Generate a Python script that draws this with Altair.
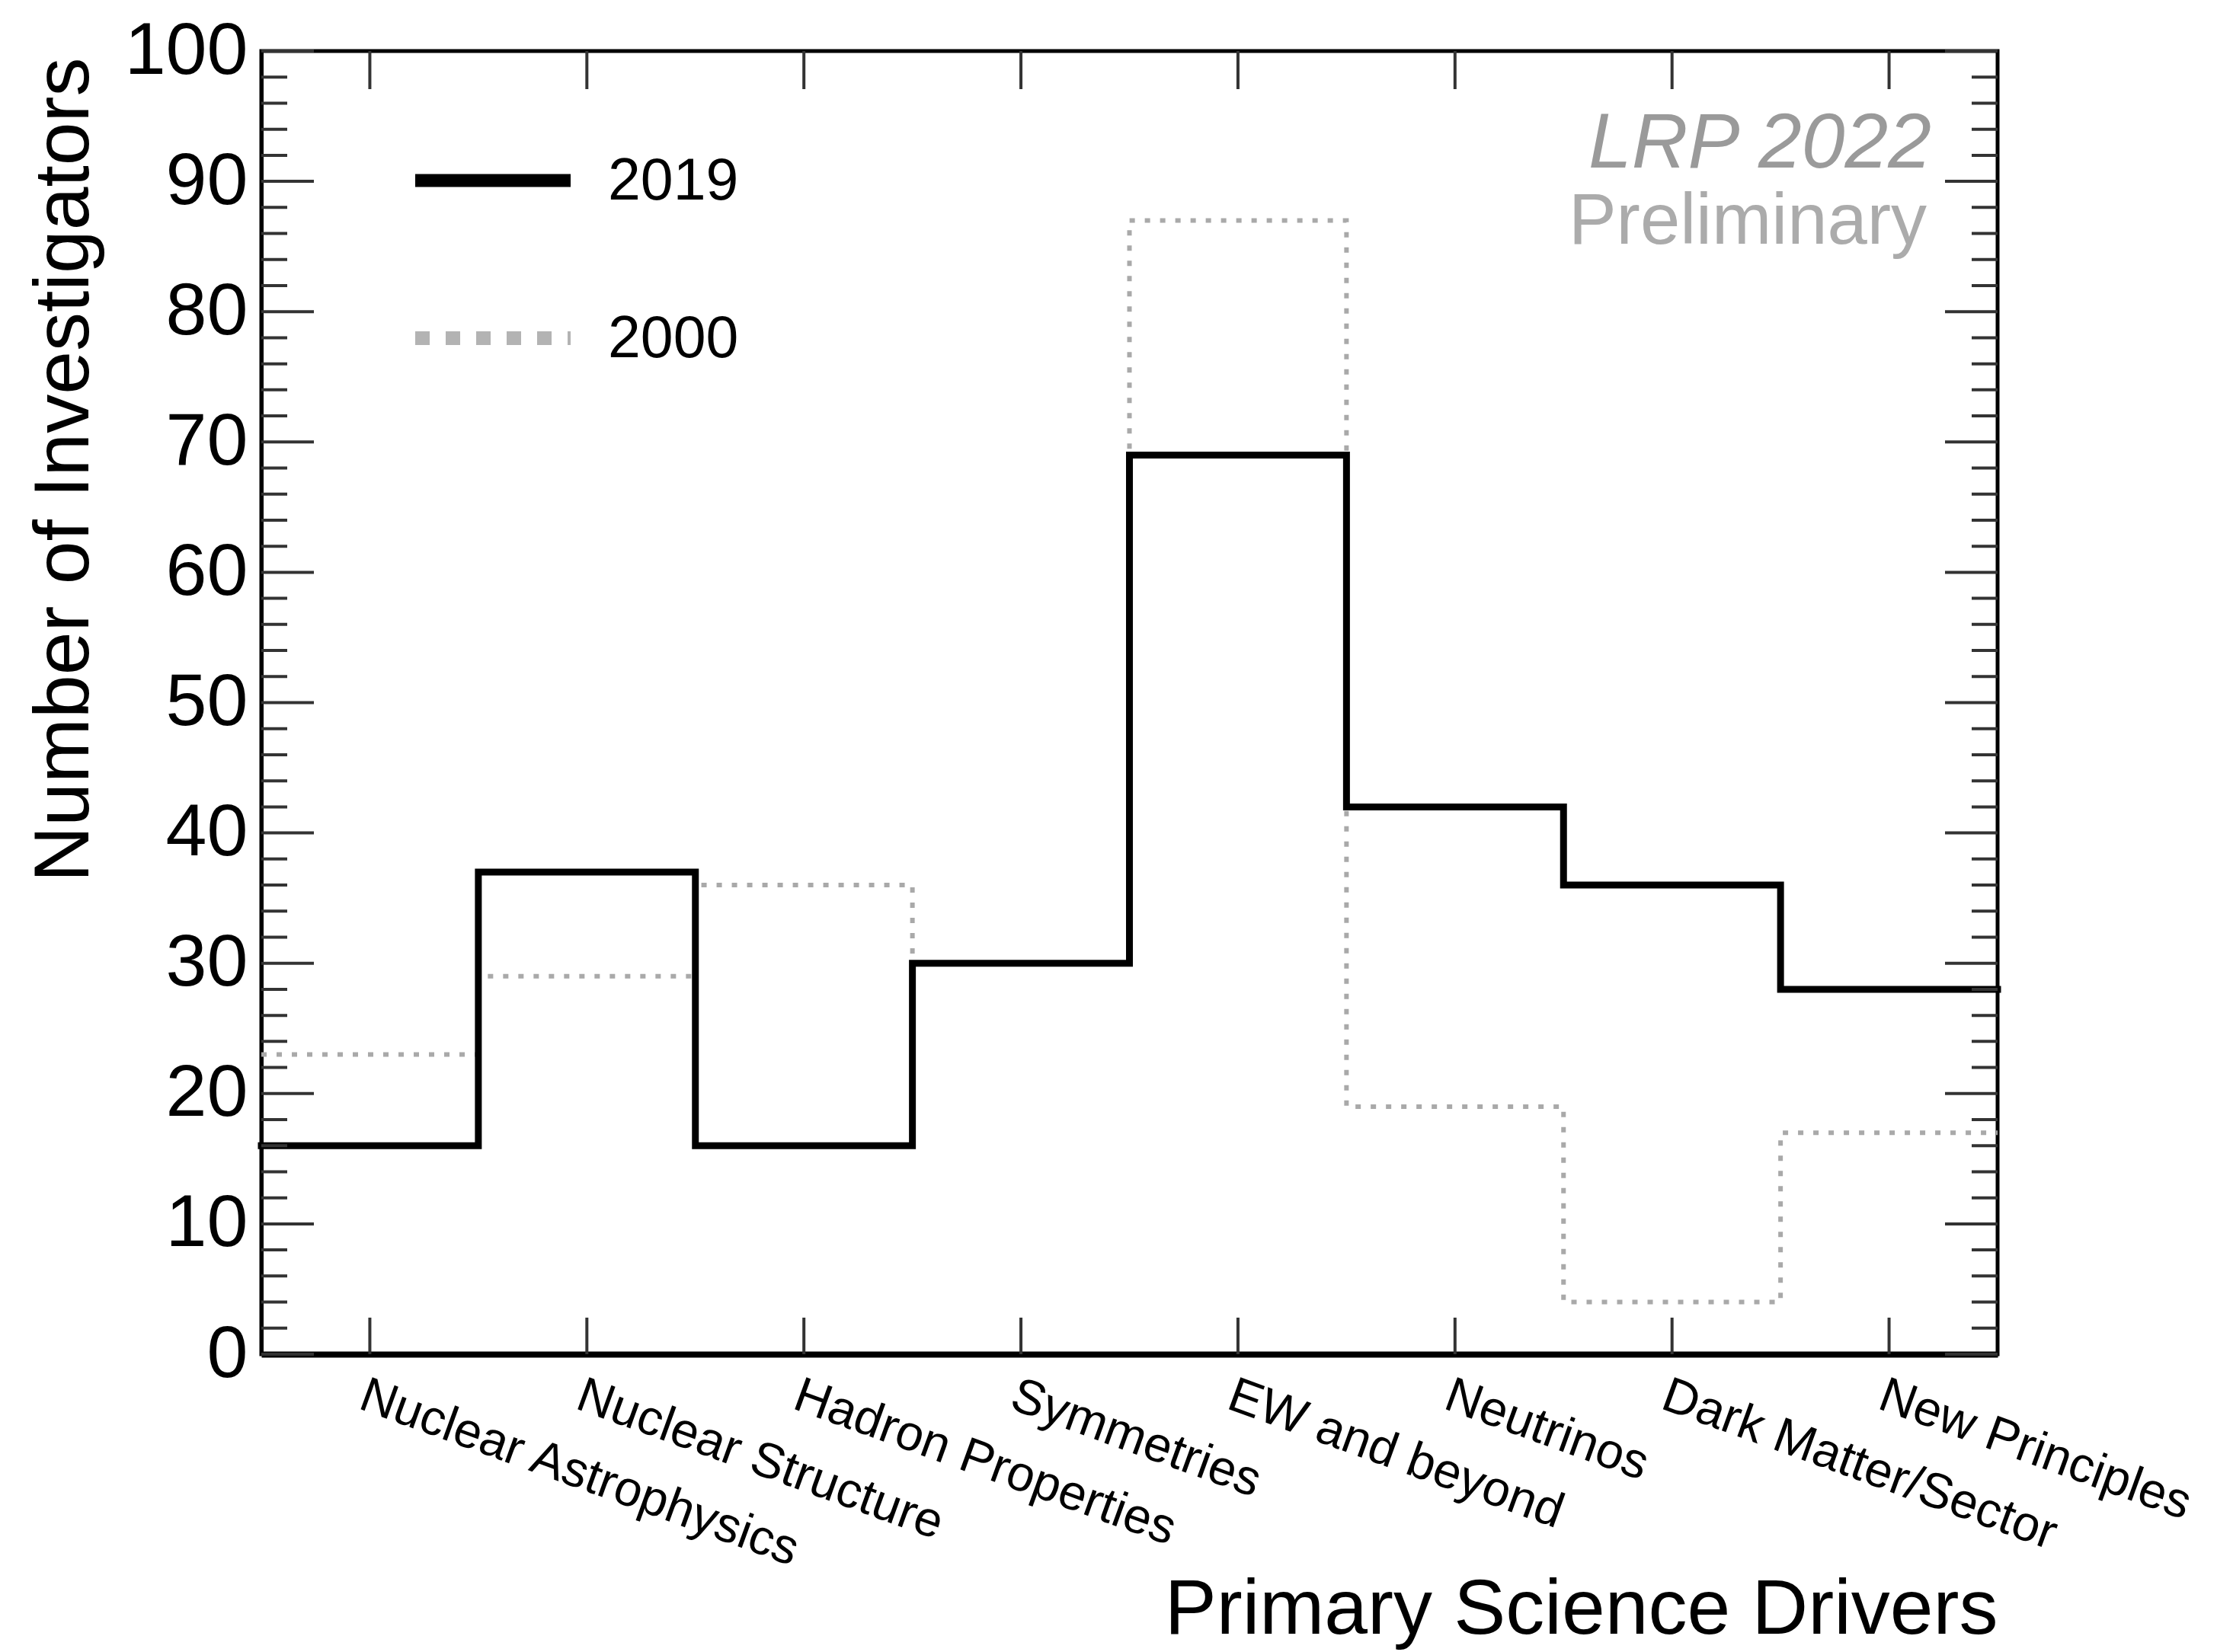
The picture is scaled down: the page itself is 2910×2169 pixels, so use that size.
import altair as alt
import pandas as pd

# Science-driver categories (bins along the x axis)
categories = [
    "Nuclear Astrophysics",
    "Nuclear Structure",
    "Hadron Properties",
    "Symmetries",
    "EW and beyond",
    "Neutrinos",
    "Dark Matter/Sector",
    "New Principles",
]

# Number of investigators per driver
counts_2019 = [16, 37, 16, 30, 69, 42, 36, 28]
counts_2000 = [23, 29, 36, 30, 87, 19, 4, 17]

# Axis tick values
y_major = list(range(0, 101, 10))
y_minor = [v for v in range(0, 101, 2) if v % 10 != 0]
bin_centers = [i + 0.5 for i in range(len(categories))]

FONT = "Liberation Sans"
W, H = 2279, 1711


def step_frame(values):
    edges = list(range(len(values) + 1))
    return pd.DataFrame({"edge": edges, "count": values + [values[-1]]})


xs = alt.Scale(domain=[0, len(categories)], nice=False, zero=False)
ys = alt.Scale(domain=[0, 100], nice=False, zero=False)

label_array = "[" + ",".join("'" + c.replace("'", "\\'") + "'" for c in categories) + "]"

x_axis = alt.Axis(
    values=bin_centers,
    labelExpr=label_array + "[floor(datum.value)]",
    labelAngle=20,
    labelAlign="left",
    labelBaseline="top",
    labelFontSize=65,
    labelFont=FONT,
    labelColor="black",
    labelPadding=22,
    labelLimit=2000,
    labelOverlap=False,
    labelBound=False,
    labelFlush=False,
    ticks=False,
    grid=False,
    domainColor="black",
    domainWidth=8,
    title="Primary Science Drivers",
    titleFont=FONT,
    titleFontSize=102,
    titleFontWeight="normal",
    titleColor="black",
    titleAnchor="end",
    titleAlign="right",
    titleBaseline="alphabetic",
    titleX=W,
    titleY=366,
)

y_axis = alt.Axis(
    values=y_major,
    labelFontSize=97,
    labelFont=FONT,
    labelColor="black",
    labelPadding=18,
    labelBaseline="middle",
    labelBound=False,
    labelFlush=False,
    ticks=False,
    grid=False,
    domainColor="black",
    domainWidth=5,
    title="Number of Investigators",
    titleFont=FONT,
    titleFontSize=102,
    titleFontWeight="normal",
    titleColor="black",
    titleAngle=270,
    titleAlign="right",
    titleBaseline="alphabetic",
    titleX=-228,
    titleY=8,
)

X = lambda f: alt.X(f, scale=xs, axis=x_axis)
Y = lambda f: alt.Y(f, scale=ys, axis=y_axis)

# 2000 distribution: grey dotted step line
line_2000 = alt.Chart(step_frame(counts_2000)).mark_line(
    interpolate="step-after", color="#a9a9a9", strokeWidth=6,
    strokeDash=[7, 13], strokeCap="butt",
).encode(x=X("edge:Q"), y=Y("count:Q"))

# 2019 distribution: solid black step line
line_2019 = alt.Chart(step_frame(counts_2019)).mark_line(
    interpolate="step-after", color="black", strokeWidth=9, strokeCap="square",
).encode(x=X("edge:Q"), y=Y("count:Q"))

tick_color = "#333333"

# Inward-pointing frame ticks
left_major = alt.Chart(pd.DataFrame({"v": y_major})).mark_rule(
    color=tick_color, strokeWidth=4).encode(
    y=Y("v:Q"), x=alt.value(0), x2=alt.value(69))
left_minor = alt.Chart(pd.DataFrame({"v": y_minor})).mark_rule(
    color=tick_color, strokeWidth=4).encode(
    y=Y("v:Q"), x=alt.value(0), x2=alt.value(34))
right_major = alt.Chart(pd.DataFrame({"v": y_major})).mark_rule(
    color=tick_color, strokeWidth=4).encode(
    y=Y("v:Q"), x=alt.value(W - 69), x2=alt.value(W))
right_minor = alt.Chart(pd.DataFrame({"v": y_minor})).mark_rule(
    color=tick_color, strokeWidth=4).encode(
    y=Y("v:Q"), x=alt.value(W - 34), x2=alt.value(W))
bottom_ticks = alt.Chart(pd.DataFrame({"c": bin_centers})).mark_rule(
    color=tick_color, strokeWidth=4).encode(
    x=X("c:Q"), y=alt.value(H), y2=alt.value(H - 48))
top_ticks = alt.Chart(pd.DataFrame({"c": bin_centers})).mark_rule(
    color=tick_color, strokeWidth=4).encode(
    x=X("c:Q"), y=alt.value(0), y2=alt.value(50))

# Legend drawn inside the frame
one = pd.DataFrame({"k": [0]})
leg_2019 = alt.Chart(one).mark_rule(color="black", strokeWidth=17, strokeCap="butt").encode(
    x=alt.value(202), x2=alt.value(406), y=alt.value(170))
leg_2000 = alt.Chart(one).mark_rule(
    color="#b3b3b3", strokeWidth=18, strokeDash=[19, 21], strokeCap="butt").encode(
    x=alt.value(202), x2=alt.value(406), y=alt.value(377))
leg_txt_2019 = alt.Chart(one).mark_text(
    text="2019", font=FONT, fontSize=77, align="left", baseline="middle", color="black"
).encode(x=alt.value(455), y=alt.value(172))
leg_txt_2000 = alt.Chart(one).mark_text(
    text="2000", font=FONT, fontSize=77, align="left", baseline="middle", color="black"
).encode(x=alt.value(455), y=alt.value(379))

# Watermark
lrp = alt.Chart(one).mark_text(
    text="LRP 2022", font=FONT, fontSize=102, fontStyle="italic",
    align="right", baseline="alphabetic", color="#9a9a9a",
).encode(x=alt.value(2192), y=alt.value(153))
prelim = alt.Chart(one).mark_text(
    text="Preliminary", font=FONT, fontSize=94,
    align="right", baseline="alphabetic", color="#ababab",
).encode(x=alt.value(2186), y=alt.value(253))

chart = alt.layer(
    line_2000, line_2019,
    left_major, left_minor, right_major, right_minor, bottom_ticks, top_ticks,
    leg_2019, leg_2000, leg_txt_2019, leg_txt_2000, lrp, prelim,
).properties(
    width=W,
    height=H,
    background="white",
    autosize=alt.AutoSizeParams(type="none"),
    padding={"left": 343, "top": 67, "right": 2910 - 343 - W, "bottom": 2169 - 67 - H},
).configure_view(
    stroke="black", strokeWidth=5,
)

chart.save("out.html", embed_options={"renderer": "svg", "actions": False})
